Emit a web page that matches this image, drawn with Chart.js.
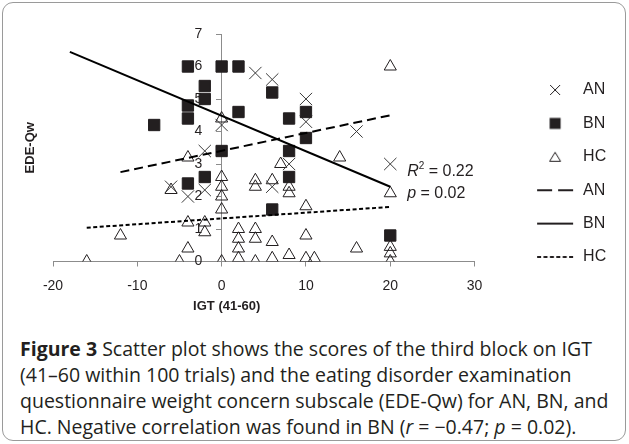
<!DOCTYPE html>
<html>
<head>
<meta charset="utf-8">
<script src="https://cdn.jsdelivr.net/npm/chart.js@4.4.1/dist/chart.umd.min.js"></script>
<style>
  html, body { margin: 0; padding: 0; background: #fff; }
  body { width: 629px; height: 444px; position: relative; overflow: hidden; }
  .marco { position: absolute; left: 2px; top: 2px; width: 624px; height: 439px; box-sizing: border-box;
           border: 1.5px solid #9a9a9a; border-radius: 11px; }
  #grafico { position: absolute; left: 0; top: 0; }
  .pie { position: absolute; left: 20px; top: 336px; font-family: "Open Sans", sans-serif; font-size: 19.5px;
         line-height: 26px; color: #231f20; white-space: nowrap; }
  .pie b { font-weight: 700; }
</style>
</head>
<body>
<div class="marco"></div>
<canvas id="grafico" width="629" height="313"></canvas>
<div class="pie"><b>Figure 3</b> Scatter plot shows the scores of the third block on IGT<br>(41–60 within 100 trials) and the eating disorder examination<br>questionnaire weight concern subscale (EDE-Qw) for AN, BN, and<br>HC. Negative correlation was found in BN (<i>r</i> = −0.47; <i>p</i> = 0.02).</div>
<script>
// Datos
const anX = [-6, -4, -2, -2, 0, 4, 6, 6, 8, 10, 10, 16, 20];
const anY = [2.3, 2.0, 3.4, 2.2, 4.2, 5.8, 5.6, 2.3, 3.0, 5.0, 4.3, 4.0, 3.0];

const bnX = [-8, -4, -4, -4, -4, -2, -2, -2, 0, 0, 2, 2, 6, 6, 8, 8, 8, 10, 10, 20];
const bnY = [4.2, 6.0, 4.8, 4.4, 2.4, 5.4, 5.0, 2.6, 6.0, 3.4, 6.0, 4.6, 5.2, 1.6, 4.4, 3.4, 2.6, 4.6, 3.8, 0.8];

const hcX = [-16, -12, -6, -5, -4, -4, -4, -2, -2, 0, 0, 0, 0, 0, 0, 2, 2, 2, 2, 4, 4, 4, 4, 4,
             6, 6, 6, 7, 8, 8, 8, 10, 10, 10, 11, 14, 16, 20, 20, 20, 20, 20];
const hcY = [0, 0.8, 2.2, 0, 3.2, 1.2, 0.4, 1.2, 0.9, 4.4, 2.6, 2.3, 2.0, 1.6, 0, 1.0, 0.7, 0.4, 0.1, 2.5, 2.3, 1.0, 0.7, 0,
             2.5, 0.6, 0.1, 3.0, 2.3, 2.1, 0.2, 1.7, 0.8, 0.1, 0.1, 3.2, 0.4, 6.0, 2.1, 0.45, 0.25, 0];

// Líneas de tendencia (extremos)
const anLineaX = [-12, 20];
const anLineaY = [2.75, 4.5];
const bnLineaX = [-18, 20];
const bnLineaY = [6.45, 2.3];
const hcLineaX = [-16, 20];
const hcLineaY = [1.04, 1.68];

const ejeX = { min: -20, max: 30, paso: 10 };
const ejeY = { min: 0, max: 7, paso: 1 };

const textoColor = '#231f20';
const ejeColor = '#8c8c8c';
const fuente = "'Liberation Sans', Arial, sans-serif";

Chart.defaults.font.family = fuente;
Chart.defaults.color = textoColor;

const puntos = (xs, ys) => xs.map((x, i) => ({ x: x, y: ys[i] }));

// Iconos de la leyenda
function icono(dibujar) {
    const c = document.createElement('canvas');
    c.width = 40;
    c.height = 14;
    const g = c.getContext('2d');
    g.strokeStyle = textoColor;
    g.fillStyle = textoColor;
    dibujar(g);
    return c;
}
function linea(g, dash) {
    g.lineWidth = 2;
    g.setLineDash(dash);
    g.beginPath();
    g.moveTo(2, 7);
    g.lineTo(38, 7);
    g.stroke();
}
const iconos = [
    icono(g => { g.lineWidth = 1; g.beginPath(); g.moveTo(15, 2); g.lineTo(25, 12); g.moveTo(25, 2); g.lineTo(15, 12); g.stroke(); }),
    icono(g => { g.fillRect(14.5, 1.5, 11, 11); }),
    icono(g => { g.lineWidth = 1; g.beginPath(); g.moveTo(20, 2.5); g.lineTo(25.5, 11.5); g.lineTo(14.5, 11.5); g.closePath(); g.stroke(); }),
    icono(g => linea(g, [15, 6])),
    icono(g => linea(g, [])),
    icono(g => linea(g, [4, 2.4]))
];

// Textos: R², p y título del eje X
const textos = {
    id: 'textos',
    afterDatasetsDraw(chart) {
        const { ctx, scales: { x, y } } = chart;
        const x0 = x.getPixelForValue(22);
        ctx.save();
        ctx.fillStyle = textoColor;
        ctx.textBaseline = 'middle';
        ctx.textAlign = 'left';
        let cx = x0;
        let cy = y.getPixelForValue(2.78);
        ctx.font = 'italic 16px ' + fuente;
        ctx.fillText('R', cx, cy);
        cx += ctx.measureText('R').width;
        ctx.font = '10px ' + fuente;
        ctx.fillText('2', cx, cy - 5);
        cx += ctx.measureText('2').width;
        ctx.font = '16px ' + fuente;
        ctx.fillText(' = 0.22', cx, cy);

        cx = x0;
        cy = y.getPixelForValue(2.1);
        ctx.font = 'italic 16px ' + fuente;
        ctx.fillText('p', cx, cy);
        cx += ctx.measureText('p').width;
        ctx.font = '16px ' + fuente;
        ctx.fillText(' = 0.02', cx, cy);

        ctx.textAlign = 'center';
        ctx.font = 'bold 13px ' + fuente;
        ctx.fillText('IGT (41-60)', x.getPixelForValue(0.6), x.bottom - 7);
        ctx.restore();
    }
};

const ctx = document.getElementById('grafico');

new Chart(ctx, {
    type: 'scatter',
    data: {
        datasets: [
            {
                label: 'AN',
                data: puntos(anX, anY),
                pointStyle: 'crossRot',
                pointRadius: 8.7,
                pointHoverRadius: 8.7,
                borderColor: '#3a3a3a',
                backgroundColor: '#3a3a3a',
                borderWidth: 1,
                order: 2
            },
            {
                label: 'BN',
                data: puntos(bnX, bnY),
                pointStyle: 'rect',
                pointRadius: 8,
                pointHoverRadius: 8,
                borderColor: textoColor,
                backgroundColor: textoColor,
                borderWidth: 1,
                order: 1
            },
            {
                label: 'HC',
                data: puntos(hcX, hcY),
                pointStyle: 'triangle',
                pointRadius: 7,
                pointHoverRadius: 7,
                borderColor: textoColor,
                backgroundColor: 'rgba(0,0,0,0)',
                borderWidth: 1,
                order: 3
            },
            {
                type: 'line',
                label: 'AN',
                data: puntos(anLineaX, anLineaY),
                borderColor: '#000',
                borderWidth: 2,
                borderDash: [9, 5],
                pointRadius: 0,
                pointHoverRadius: 0,
                order: 0
            },
            {
                type: 'line',
                label: 'BN',
                data: puntos(bnLineaX, bnLineaY),
                borderColor: '#000',
                borderWidth: 2,
                pointRadius: 0,
                pointHoverRadius: 0,
                order: 0
            },
            {
                type: 'line',
                label: 'HC',
                data: puntos(hcLineaX, hcLineaY),
                borderColor: '#000',
                borderWidth: 2,
                borderDash: [4, 2.5],
                pointRadius: 0,
                pointHoverRadius: 0,
                order: 0
            }
        ]
    },
    options: {
        responsive: false,
        animation: false,
        layout: { padding: { left: 18.2, top: 34, right: 12.8, bottom: 0 } },
        plugins: {
            tooltip: { enabled: false },
            legend: {
                position: 'right',
                align: 'center',
                maxWidth: 140,
                labels: {
                    usePointStyle: true,
                    pointStyleWidth: 40,
                    boxHeight: 10,
                    padding: 17.4,
                    color: textoColor,
                    font: { size: 16 },
                    sort: (a, b) => a.datasetIndex - b.datasetIndex,
                    generateLabels(chart) {
                        const items = Chart.defaults.plugins.legend.labels.generateLabels(chart);
                        items.forEach(item => { item.pointStyle = iconos[item.datasetIndex]; });
                        return items;
                    }
                }
            }
        },
        scales: {
            x: {
                type: 'linear',
                position: 'bottom',
                min: ejeX.min,
                max: ejeX.max,
                ticks: { stepSize: ejeX.paso, padding: 11, color: textoColor, font: { size: 14 } },
                grid: { drawOnChartArea: false, tickLength: 5, color: ejeColor },
                border: { color: ejeColor },
                afterFit(s) { s.height = 51.5; }
            },
            y: {
                type: 'linear',
                position: { x: 0 },
                min: ejeY.min,
                max: ejeY.max,
                ticks: {
                    stepSize: ejeY.paso,
                    color: textoColor,
                    font: { size: 14 },
                    // separa las etiquetas del eje que cruza en x = 0
                    callback: v => v + '     '
                },
                grid: { drawOnChartArea: false, tickLength: 5, color: ejeColor },
                border: { color: ejeColor }
            },
            yl: {
                type: 'linear',
                position: 'left',
                ticks: { display: false },
                grid: { display: false, drawTicks: false },
                border: { display: false },
                title: { display: true, text: 'EDE-Qw', color: textoColor, font: { size: 13, weight: 'bold' } },
                afterFit(s) { s.width = 34.8; }
            },
            yr: {
                type: 'linear',
                position: 'right',
                ticks: { display: false },
                grid: { display: false, drawTicks: false },
                border: { display: false },
                afterFit(s) { s.width = 43.1; }
            }
        }
    },
    plugins: [textos]
});
</script>
</body>
</html>
